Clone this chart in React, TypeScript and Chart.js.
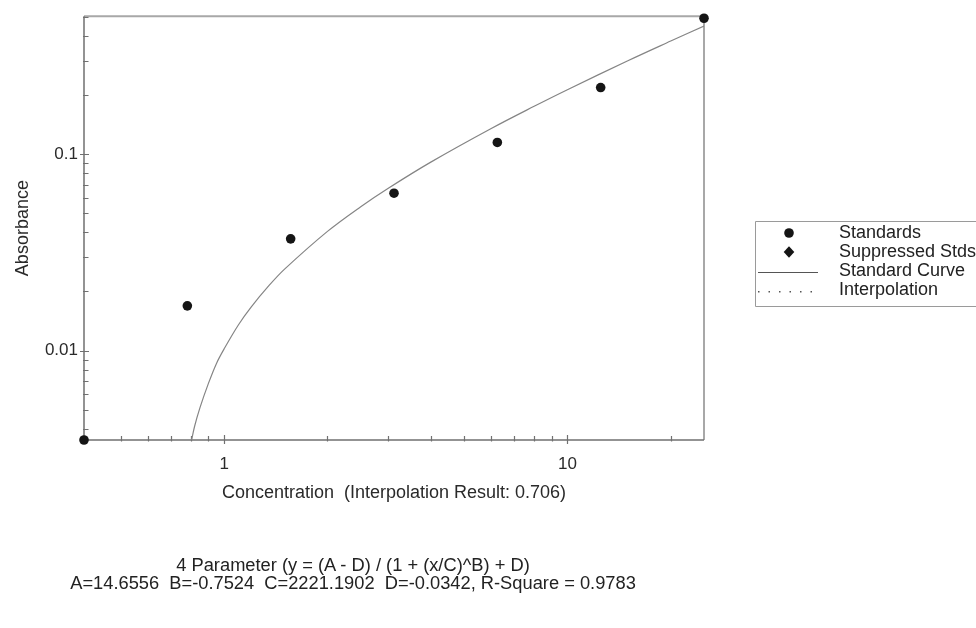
import React, { useEffect, useRef } from "react";
import { Chart, registerables } from "chart.js";

Chart.register(...registerables);

// Standards (concentration vs absorbance)
const standardsX = [0.390625, 0.78125, 1.5625, 3.125, 6.25, 12.5, 25];
const standardsY = [0.0035, 0.0169, 0.0371, 0.0634, 0.115, 0.219, 0.494];

// Standard curve
const curveX = [0.804, 0.82, 0.85, 0.9, 0.95, 1.0, 1.1, 1.2, 1.35, 1.5, 2, 2.5, 3, 4, 6, 8, 10, 15, 20, 25];
const curveY = [0.0035, 0.0041, 0.0051, 0.0068, 0.0086, 0.0102, 0.0135, 0.0167, 0.0214, 0.026, 0.0405, 0.0541, 0.067, 0.0913, 0.1355, 0.1758, 0.2136, 0.30, 0.378, 0.451];

// Axis tick marks and labels
const xMinorTicks = [0.5, 0.6, 0.7, 0.8, 0.9, 2, 3, 4, 5, 6, 7, 8, 9, 20];
const xMajorTicks = [1, 10];
const yMinorTicks = [0.004, 0.005, 0.006, 0.007, 0.008, 0.009, 0.02, 0.03, 0.04, 0.05, 0.06, 0.07, 0.08, 0.09, 0.2, 0.3, 0.4, 0.5];
const yMajorTicks = [0.01, 0.1];
const xTickLabels = ["1", "10"];
const yTickLabels = ["0.01", "0.1"];

const legendLabels = ["Standards", "Suppressed Stds", "Standard Curve", "Interpolation"];
const xTitle = "Concentration  (Interpolation Result: 0.706)";
const yTitle = "Absorbance";
const formulaLines = [
  "4 Parameter (y = (A - D) / (1 + (x/C)^B) + D)",
  "A=14.6556  B=-0.7524  C=2221.1902  D=-0.0342, R-Square = 0.9783",
];

const FONT = "'Liberation Sans', Arial, sans-serif";

function near(v: number, list: number[]) {
  return list.findIndex((t) => Math.abs(v - t) / t < 1e-6);
}

const framePlugin = {
  id: "frame",
  beforeDatasetsDraw(chart: any) {
    const { ctx, chartArea } = chart;
    const { left, right, top, bottom } = chartArea;
    const xs = chart.scales.x;
    const ys = chart.scales.y;
    ctx.save();
    // top & right frame
    ctx.strokeStyle = "#a8a8a8";
    ctx.lineWidth = 2;
    ctx.beginPath();
    ctx.moveTo(left, top);
    ctx.lineTo(right, top);
    ctx.lineTo(right, bottom);
    ctx.stroke();
    // axes
    ctx.strokeStyle = "#707070";
    ctx.lineWidth = 1.5;
    ctx.beginPath();
    ctx.moveTo(left, top);
    ctx.lineTo(left, bottom);
    ctx.lineTo(right, bottom);
    ctx.stroke();
    // tick marks
    ctx.lineWidth = 1.2;
    ctx.beginPath();
    xMinorTicks.forEach((v) => {
      const px = Math.round(xs.getPixelForValue(v)) + 0.5;
      ctx.moveTo(px, bottom + 1.5);
      ctx.lineTo(px, bottom - 4);
    });
    xMajorTicks.forEach((v) => {
      const px = Math.round(xs.getPixelForValue(v)) + 0.5;
      ctx.moveTo(px, bottom + 4);
      ctx.lineTo(px, bottom - 5);
    });
    yMinorTicks.forEach((v) => {
      const py = Math.round(ys.getPixelForValue(v)) + 0.5;
      ctx.moveTo(left - 1, py);
      ctx.lineTo(left + 4.5, py);
    });
    yMajorTicks.forEach((v) => {
      const py = Math.round(ys.getPixelForValue(v)) + 0.5;
      ctx.moveTo(left - 4, py);
      ctx.lineTo(left + 5, py);
    });
    ctx.stroke();
    ctx.restore();
  },
  afterDraw(chart: any) {
    const { ctx } = chart;
    ctx.save();
    // legend box
    ctx.strokeStyle = "#9a9a9a";
    ctx.lineWidth = 1;
    ctx.beginPath();
    ctx.moveTo(990, 221.5);
    ctx.lineTo(755.5, 221.5);
    ctx.lineTo(755.5, 306.5);
    ctx.lineTo(990, 306.5);
    ctx.stroke();
    const sx = 789;
    const rows = [233, 252, 271, 290];
    ctx.fillStyle = "#151515";
    // circle
    ctx.beginPath();
    ctx.arc(sx, rows[0], 4.8, 0, Math.PI * 2);
    ctx.fill();
    // diamond
    ctx.beginPath();
    ctx.moveTo(sx, rows[1] - 5.8);
    ctx.lineTo(sx + 5.3, rows[1]);
    ctx.lineTo(sx, rows[1] + 5.8);
    ctx.lineTo(sx - 5.3, rows[1]);
    ctx.closePath();
    ctx.fill();
    // solid line
    ctx.strokeStyle = "#555";
    ctx.lineWidth = 1;
    ctx.beginPath();
    ctx.moveTo(758, rows[2] + 1.5);
    ctx.lineTo(818, rows[2] + 1.5);
    ctx.stroke();
    // dotted line
    ctx.fillStyle = "#555";
    for (let d = 758; d <= 812; d += 10.5) {
      ctx.fillRect(d, rows[3] + 1, 1.5, 1.5);
    }
    // labels
    ctx.fillStyle = "#222";
    ctx.font = `18px ${FONT}`;
    ctx.textBaseline = "middle";
    ctx.textAlign = "left";
    legendLabels.forEach((t, i) => ctx.fillText(t, 839, rows[i]));
    ctx.restore();
  },
};

export default function App() {
  const ref = useRef<HTMLCanvasElement | null>(null);

  useEffect(() => {
    if (!ref.current) return;
    const chart = new Chart(ref.current, {
      type: "scatter",
      data: {
        datasets: [
          {
            label: "Standards",
            data: standardsX.map((x, i) => ({ x, y: standardsY[i] })),
            pointRadius: 4.8,
            pointBackgroundColor: "#151515",
            pointBorderColor: "#151515",
            pointBorderWidth: 0,
            showLine: false,
            clip: false as any,
            order: 0,
          },
          {
            label: "Standard Curve",
            data: curveX.map((x, i) => ({ x, y: curveY[i] })),
            showLine: true,
            pointRadius: 0,
            borderColor: "#858585",
            borderWidth: 1.2,
            tension: 0.35,
            fill: false,
            order: 1,
          },
        ],
      },
      options: {
        animation: false,
        responsive: false,
        events: [],
        layout: { padding: { left: 0, top: 14, right: 272, bottom: 124 } },
        plugins: { legend: { display: false }, tooltip: { enabled: false } },
        scales: {
          x: {
            type: "logarithmic",
            position: "bottom",
            min: 0.390625,
            max: 25,
            grid: { display: false, drawTicks: false },
            border: { display: false },
            ticks: {
              autoSkip: false,
              maxRotation: 0,
              padding: 14,
              color: "#2a2a2a",
              font: { size: 17, family: FONT },
              callback: (v: any) => {
                const i = near(Number(v), xMajorTicks);
                return i >= 0 ? xTickLabels[i] : "";
              },
            },
            title: {
              display: true,
              text: xTitle,
              color: "#2a2a2a",
              font: { size: 18, family: FONT },
              padding: { top: 0, bottom: 0 },
            },
            afterFit: (s: any) => {
              s.height = 64;
            },
          },
          y: {
            type: "logarithmic",
            position: "left",
            min: 0.0035,
            max: 0.506,
            grid: { display: false, drawTicks: false },
            border: { display: false },
            ticks: {
              autoSkip: false,
              padding: 6,
              color: "#2a2a2a",
              font: { size: 17, family: FONT },
              callback: (v: any) => {
                const i = near(Number(v), yMajorTicks);
                return i >= 0 ? yTickLabels[i] : "";
              },
            },
            title: {
              display: true,
              text: yTitle,
              color: "#2a2a2a",
              font: { size: 18, family: FONT },
              padding: { top: 12, bottom: 0 },
            },
            afterFit: (s: any) => {
              s.width = 84;
            },
          },
        },
      } as any,
      plugins: [framePlugin],
    });
    return () => chart.destroy();
  }, []);

  return (
    <div style={{ position: "absolute", left: 0, top: 0, width: 976, height: 628, background: "#fff", overflow: "hidden" }}>
      <canvas ref={ref} width={976} height={628} style={{ display: "block" }} />
      <div
        style={{
          position: "absolute",
          left: 0,
          top: 556,
          width: 706,
          textAlign: "center",
          fontFamily: FONT,
          fontSize: 18.3,
          lineHeight: "18px",
          color: "#222",
          whiteSpace: "pre",
        }}
      >
        {formulaLines.map((l, i) => (
          <div key={i}>{l}</div>
        ))}
      </div>
    </div>
  );
}
